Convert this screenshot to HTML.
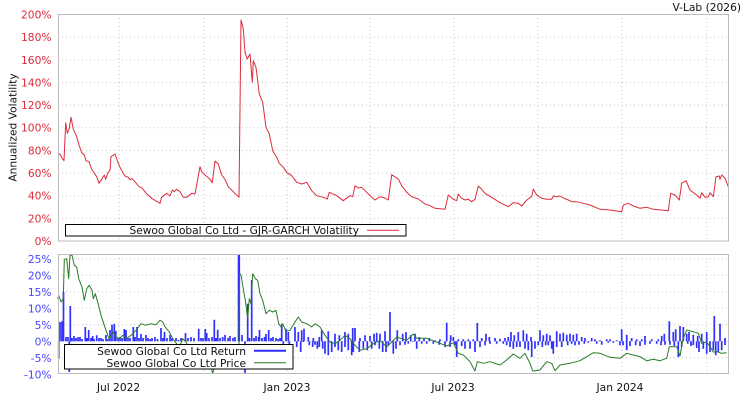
<!DOCTYPE html>
<html><head><meta charset="utf-8"><style>
html,body{margin:0;padding:0;background:#fff;}
svg{display:block;font-family:"DejaVu Sans","Liberation Sans",sans-serif;}
</style></head><body>
<svg width="750" height="400" viewBox="0 0 750 400" xmlns="http://www.w3.org/2000/svg">
<rect width="750" height="400" fill="#fff"/>
<text x="741" y="11" font-size="10.67" text-anchor="end" fill="#111">V-Lab (2026)</text>

<!-- top panel grid -->
<g stroke="#c4c4c4" stroke-width="1" stroke-dasharray="1,3" fill="none">
<path d="M58 37.15H728M58 59.8H728M58 82.45H728M58 105.1H728M58 127.75H728M58 150.4H728M58 173.05H728M58 195.7H728M58 218.35H728"/>
<path d="M119.3 14V241M204.3 14V241M287.3 14V241M370 14V241M454 14V241M537.7 14V241M621.7 14V241M706.7 14V241"/>
<path d="M58 258.8H728M58 275.3H728M58 291.8H728M58 308.3H728M58 324.8H728M58 341.3H728M58 357.8H728"/>
<path d="M119.3 254V374M204.3 254V374M287.3 254V374M370 254V374M454 254V374M537.7 254V374M621.7 254V374M706.7 254V374"/>
</g>

<!-- top y labels -->
<g font-size="10.67" fill="#dd2a3a" text-anchor="end">
<text x="51.5" y="18.5">200%</text>
<text x="51.5" y="41.1">180%</text>
<text x="51.5" y="63.8">160%</text>
<text x="51.5" y="86.4">140%</text>
<text x="51.5" y="109.1">120%</text>
<text x="51.5" y="131.7">100%</text>
<text x="51.5" y="154.4">80%</text>
<text x="51.5" y="177">60%</text>
<text x="51.5" y="199.7">40%</text>
<text x="51.5" y="222.3">20%</text>
<text x="51.5" y="245">0%</text>
</g>
<text transform="translate(16.5,127.5) rotate(-90)" font-size="10.67" text-anchor="middle" fill="#111">Annualized Volatility</text>

<!-- red volatility -->
<polyline fill="none" stroke="#dc2b3a" stroke-width="1" stroke-linejoin="round" points="58.3,155 60,154 62.3,158.3 64,160.7 65.7,122.7 67.3,133.3 69.3,128.3 71,117.3 73.3,129.3 76.7,136.7 79,145 81.7,152.7 84.3,155 86,160.7 89,161.7 91.7,169.3 96.7,176.7 99,183.3 101.7,179.3 104.3,175 105.7,179.3 107.7,173.3 110,170 111,156.7 115,154 117.7,161.7 120,167.3 123.3,173.3 125,176 128.3,177.3 130,180 131.7,178.3 135,181.7 138.3,186 142.3,188.3 145.7,192.7 151.7,198.3 160,203.3 161.7,197.3 166.7,193.3 170,196 172.3,190 174.3,191.7 176.7,189.3 180,191.7 183.3,197.3 186.7,197.3 191.7,193.3 195,194 200,166.7 201.7,171.7 205,175 210,179.3 212.3,182.7 215,161 218.3,164 221.7,175 225,179.3 228.3,186.7 233.3,191.7 239,197.3 241,20 243.3,29 245,52.3 247.3,59 250,54 252.3,82.3 253.3,60.7 256,67.3 259.3,94 262.7,102.3 266,127.3 269.3,134 272.7,150.7 276.7,157.3 279.3,163.3 283.3,167.3 286.7,172.3 291.7,175.7 296.7,182.3 301.7,184 306.7,182.3 311.7,190.7 316.7,195.7 323.3,197.3 327.3,199 329.3,192.3 336.7,195.7 343.3,200.7 350,195.7 352.7,196.7 355,185.7 358.3,188 361.7,187.3 366.7,192.3 371.7,197.3 375,200 380,196.7 385,198 388.3,200 391.7,174.7 398.3,179 401.7,185.7 406.7,192.3 411.7,196.7 418.3,199 425,204 430,205.7 435,208.3 445,209.3 448.3,195 453.3,199.3 456.7,200.7 458.3,194 461.7,198.3 465,200 468.3,199.3 471.7,201.7 475,199.3 478.3,186 481.7,189.3 485,193.3 493.3,198.3 500,202.7 508.3,206.7 513.3,202.7 518.3,203.3 521.7,206 526.7,200 531.7,196.7 533.3,189.3 536.7,195 541.7,198.3 546.7,199.3 551.7,199.3 553.3,196 556.7,196.7 560,196 564,198.3 568.3,200 571.7,201.7 576.7,201.7 583.3,203.3 590,205 600,209.3 610,210 621.7,211.7 623.3,205 628.3,203.3 633.3,206 640,208.3 646.7,207.3 653.3,209.3 668.3,210.7 670.7,193.3 675,195 679.3,200 681.7,183.3 686,180.7 690,190 696.7,195 700,198.3 701.7,192.7 705,197.3 708.3,196.7 710,192.7 713.3,196.7 716,176.7 719.3,176 720,179.3 721.7,175 725,178.3 728.3,186.7"/>

<!-- top frame -->
<rect x="58.5" y="14.5" width="670" height="226.5" fill="none" stroke="#bdbdbd" stroke-width="1"/>

<!-- top legend -->
<rect x="65.5" y="224.5" width="340.5" height="11.5" fill="#fff" stroke="#000" stroke-width="1"/>
<text x="359" y="234" font-size="10.67" text-anchor="end" fill="#111" textLength="229.5" lengthAdjust="spacingAndGlyphs">Sewoo Global Co Ltd - GJR-GARCH Volatility</text>
<line x1="367" y1="230.3" x2="399" y2="230.3" stroke="#dc2b3a" stroke-width="1"/>

<!-- bottom y labels -->
<g font-size="10.67" fill="#4646ff" text-anchor="end">
<text x="51.5" y="262.8">25%</text>
<text x="51.5" y="279.3">20%</text>
<text x="51.5" y="295.8">15%</text>
<text x="51.5" y="312.3">10%</text>
<text x="51.5" y="328.8">5%</text>
<text x="51.5" y="345.3">0%</text>
<text x="51.5" y="361.8">-5%</text>
<text x="51.5" y="378.3">-10%</text>
</g>

<!-- blue returns -->
<rect x="237.7" y="254.5" width="2.4" height="86.8" fill="#2f2fff"/>
<path fill="none" stroke="#2f2fff" stroke-width="1.7" d="
M58.7 341.3V358.7M60 341.3V322M62 341.3V321.3M63.5 341.3V292M66 341.3V337M68 341.3V337M69.3 341.3V372M70.3 341.3V306M72 341.3V338M74 341.3V336M76 341.3V338M78 341.3V337M80 341.3V337M82 341.3V339M85.3 341.3V327M87 341.3V338M88.7 341.3V330M91 341.3V338M92.7 341.3V336M94 341.3V339M96.7 341.3V335.3M99 341.3V338M101 341.3V338M103 341.3V339M106 341.3V335M108 341.3V339M110 341.3V330M112 341.3V324.7M114.3 341.3V323.7M115.8 341.3V331M118 341.3V338M120 341.3V337M122 341.3V338M124.3 341.3V329M126 341.3V330M128 341.3V338M130 341.3V338M133.3 341.3V327M135 341.3V337M137 341.3V327M139 341.3V338M141 341.3V334M143 341.3V338M146 341.3V335M148 341.3V338M150 341.3V339M152 341.3V338M155 341.3V337M157.5 341.3V339M161 341.3V328M163 341.3V338M164.5 341.3V332M167 341.3V338M170 341.3V335M172 341.3V338M176 341.3V338M178.5 341.3V340M181 341.3V338M185.5 341.3V333M188 341.3V338M191 341.3V337M194 341.3V338M198.7 341.3V328.7M201 341.3V338M203 341.3V338M205.3 341.3V329M206.7 341.3V333M209 341.3V338M212 341.3V337M214.3 341.3V319.7M216 341.3V338M217.7 341.3V329.7M220 341.3V338M222.7 341.3V337M225 341.3V335M228 341.3V338M230 341.3V336M233 341.3V338M235 341.3V337
M242 341.3V335M245 341.3V374M247.7 341.3V303.7M249.5 341.3V338M251.7 341.3V280M254 341.3V338M256 341.3V336M258.5 341.3V337M259.5 341.3V330M262 341.3V338M264.5 341.3V337M266 341.3V334M268.7 341.3V330M271 341.3V338M273 341.3V337M276 341.3V338M278 341.3V339M280 341.3V338
M281.7 341.3V323.7M286 341.3V328.7M288.3 341.3V332M295 341.3V327M298.3 341.3V332M301.7 341.3V330.3M304 341.3V328.7M308.3 341.3V337M313.3 341.3V338M319.3 341.3V337M321.7 341.3V330M328.3 341.3V331.3M335 341.3V333.7M339.3 341.3V335.3M345 341.3V332M348.3 341.3V333.7M352.7 341.3V328M355 341.3V328M360 341.3V338M365 341.3V335.3M370 341.3V336M374 341.3V333.7M376.7 341.3V332.7M380 341.3V333.7M385 341.3V331.3M390 341.3V312M397.3 341.3V330.3M402.7 341.3V333.7M406 341.3V332M410.7 341.3V335.3M415 341.3V333.7M419.3 341.3V337M424 341.3V338M429.3 341.3V338M435 341.3V340.3M440 341.3V339.3M446.7 341.3V322.7M450.7 341.3V335.3M453.3 341.3V337M458.3 341.3V339.3M463.3 341.3V339.3M468.3 341.3V339.3M473.3 341.3V339.3M477.3 341.3V323M481.7 341.3V338M486 341.3V333.7M489.3 341.3V337M495 341.3V338M500 341.3V338.7M505 341.3V338M508.3 341.3V337
M283.3 341.3V352M289.3 341.3V345.3M296.7 341.3V347M300.7 341.3V352M303.3 341.3V342M309.3 341.3V345.3M312.7 341.3V347M315 341.3V344.7M317.3 341.3V348.7M319.3 341.3V347M322.7 341.3V348.7M325 341.3V353.7M328.3 341.3V355.3M331.7 341.3V352M335 341.3V347M338.3 341.3V350.3M341.7 341.3V352M345 341.3V347M348.3 341.3V350.3M351.7 341.3V355.3M353.3 341.3V352M359.3 341.3V352M363.3 341.3V348.7M367.3 341.3V350.3M371.7 341.3V348.7M375 341.3V345.3M379.3 341.3V348.7M382.7 341.3V352M386 341.3V352M388.3 341.3V345.3M393.3 341.3V353.7M396 341.3V348.7M400 341.3V345.3M405 341.3V344.7M408.3 341.3V343.7M412.7 341.3V342M416.7 341.3V348.7M421.7 341.3V343.7M426.7 341.3V343.7M433.3 341.3V343.7M439.3 341.3V344.7M445 341.3V347M450 341.3V347M455 341.3V345.3M456.7 341.3V357M461.7 341.3V346M465 341.3V348.7M470 341.3V348.7M475 341.3V352M480 341.3V347M485 341.3V345.3M490 341.3V343.7M496.7 341.3V343.7M503.3 341.3V343.7
M511 341.3V332M514.3 341.3V335.3M518.3 341.3V332M523.3 341.3V330.3M526.7 341.3V333.7M531 341.3V337M540 341.3V330.3M543.3 341.3V335.3M546.7 341.3V333.7M550 341.3V335.3M556.7 341.3V331.3M560 341.3V333.7M563.3 341.3V332.7M566.7 341.3V334.7M570 341.3V333.7M573.3 341.3V334.7M576.7 341.3V333.7M581.7 341.3V337M585 341.3V338M591.7 341.3V338M595 341.3V339.3M600 341.3V340.3M606.7 341.3V339.3M610 341.3V339.3M616.7 341.3V340.3M621.7 341.3V329.3M626.7 341.3V334.7M631.7 341.3V338M636.7 341.3V339.3M641.7 341.3V339.3M645 341.3V336M651.7 341.3V339.3M658.3 341.3V339.3M661.7 341.3V336M664.3 341.3V333.7M669.3 341.3V321.3M673.3 341.3V332M675.7 341.3V329.3M680 341.3V326M683.3 341.3V327M686.7 341.3V333.7M689 341.3V332M693.3 341.3V334.7M697.7 341.3V336M701.7 341.3V333.7M706.7 341.3V332M714.3 341.3V316M720 341.3V323.7M725 341.3V338
M506.7 341.3V345.3M510 341.3V347M513.3 341.3V348.7M516.7 341.3V347M520 341.3V347M525 341.3V348.7M528.3 341.3V350.3M531.7 341.3V357M535 341.3V348.7M538.3 341.3V345.3M542.3 341.3V347M545.7 341.3V345.3M548.3 341.3V345.3M551.7 341.3V348.7M553.3 341.3V353.7M556.7 341.3V347M561.7 341.3V347M567.7 341.3V345.3M571.7 341.3V343.7M575 341.3V345.3M579 341.3V344.7M584.3 341.3V343.7M588.3 341.3V342.7M596.7 341.3V343.7M601.7 341.3V344.7M608.3 341.3V342.7M613.3 341.3V342.7M620 341.3V345.3M623 341.3V345.3M626.7 341.3V350.3M630 341.3V346M635.7 341.3V345.3M640 341.3V346M645 341.3V344.7M650 341.3V343.7M656.7 341.3V343.7M661 341.3V345.3M665 341.3V344.7M670 341.3V344.7M674.3 341.3V346M678.3 341.3V357M681.7 341.3V347M687.7 341.3V343.7M691 341.3V346M693.3 341.3V345.3M696.7 341.3V348M699 341.3V352M703.3 341.3V348.7M706.7 341.3V353.7M710 341.3V352M713.3 341.3V350.3M715.7 341.3V355.3M718.3 341.3V352M721.7 341.3V350.3M725 341.3V345"/>

<!-- green price -->
<polyline fill="none" stroke="#287a28" stroke-width="1" stroke-linejoin="round" points="57.7,298.7 58.7,295.3 61,302 63.3,298.7 64.3,259.3 66.7,258.7 68.7,278.7 70,255.3 72,255.3 74.3,265.3 76.7,267 78.7,278.7 82,287 84.3,300.3 86.7,288.7 89.3,285.3 92,290.3 93.3,298.7 95.3,293.7 97.7,302 101,315.3 104.3,325.3 107.7,335.3 109.3,339.3 112.7,332 116,337 119.3,338.7 122.7,335.3 126,338.7 131,335.3 136,330.3 141,323.7 146,325.3 151,323.7 156,324.7 160,320.3 162.7,322 165.3,327 169.3,332 172.7,338.7 175.3,342 179.3,347 182.7,338.7 186,342 189.3,348.7 196,350.3 202.7,352 209.3,358.7 212.7,373.7 215,365 220,360 228,362 235,358 239,352 239.5,273 241,275 242.7,285.3 245.3,300.3 247.7,318.7 249.3,298.7 251,303.7 252.7,273.7 255.3,278.7 257.7,280.3 260,293.7 262.7,300.3 266,313.7 269.3,310.3 272.7,312 276,310.3 278.7,323.7 281,327 282.7,323.7 286,331.3 290,330.3 295,322 298.3,317 301.7,322 306.7,323.7 311.7,327 315,323.7 320,327 325,335.3 330,342 335,343.7 340,340.3 345,335.3 350,338.7 355,345.3 360,350.3 366.7,348.7 373.3,343.7 380,340.3 386.7,347 391.7,342 396.7,337 401.7,338.7 406.7,340.3 413.3,334 416.7,338.3 426.7,338.3 440,343.3 446.7,346 453.3,342.7 458.3,353.3 463.3,355 470,361.7 475,371 477.3,361.7 483.3,363.3 490,361.7 500,365 506.7,360 513.3,354 520,358.3 525,353.3 530,363.3 532.7,371 540,370 546.7,361.7 551.7,363.3 555,370.7 560,365 570,363.3 580,360.7 593.3,352.7 600,353.3 610,357.3 620,358.3 626.7,353.3 633.3,355 640,356.7 646.7,360.7 653.3,359.3 660,360.7 666.7,358.3 669.3,346.7 676.7,346.7 680,356 682.7,340 686.7,330 693.3,331.7 698.3,333.3 701.7,343.3 706.7,342 710,346.7 713.3,352 716.7,351.7 721.7,353.3 726.7,352.7"/>

<!-- bottom frame -->
<rect x="58.5" y="254.5" width="670" height="119" fill="none" stroke="#bdbdbd" stroke-width="1"/>

<!-- bottom legend -->
<rect x="64.5" y="344.5" width="228.5" height="24.5" fill="#fff" stroke="#000" stroke-width="1"/>
<text x="246" y="355" font-size="10.67" text-anchor="end" fill="#111">Sewoo Global Co Ltd Return</text>
<text x="246" y="367" font-size="10.67" text-anchor="end" fill="#111">Sewoo Global Co Ltd Price</text>
<line x1="254" y1="350.8" x2="286" y2="350.8" stroke="#2f2fff" stroke-width="2"/>
<line x1="254" y1="362.8" x2="286" y2="362.8" stroke="#287a28" stroke-width="1"/>

<!-- x labels -->
<g font-size="10.67" fill="#111" text-anchor="middle">
<text x="118.5" y="391">Jul 2022</text>
<text x="287" y="391">Jan 2023</text>
<text x="453" y="391">Jul 2023</text>
<text x="620" y="391">Jan 2024</text>
</g>
</svg>
</body></html>
